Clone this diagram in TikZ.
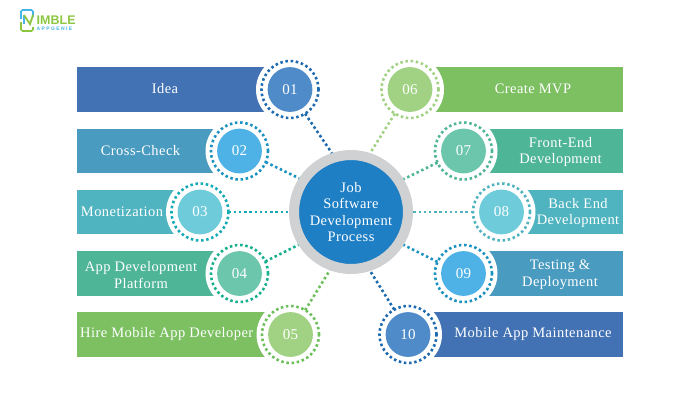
\documentclass[tikz,border=0pt]{standalone}
\usepackage{fontspec}
\setmainfont[LetterSpace=3]{Liberation Serif}
\setsansfont{Liberation Sans}
\definecolor{barA}{HTML}{4272B3}\definecolor{discA}{HTML}{4E8BC8}\definecolor{dotA}{HTML}{1D6AAE}
\definecolor{barB}{HTML}{4A9BC0}\definecolor{discB}{HTML}{4FB2E6}\definecolor{dotB}{HTML}{1A92C0}
\definecolor{barC}{HTML}{4FB4BF}\definecolor{discC}{HTML}{6ECBD9}\definecolor{dotC}{HTML}{13ABB5}
\definecolor{barD}{HTML}{4FB597}\definecolor{discD}{HTML}{6BC6AC}\definecolor{dotD}{HTML}{16B08E}
\definecolor{barE}{HTML}{7CC062}\definecolor{discE}{HTML}{A1D283}\definecolor{dotE}{HTML}{6CBF5B}
\definecolor{dotF}{HTML}{A1D283}\definecolor{dotG}{HTML}{4FB597}\definecolor{dotH}{HTML}{4FB4BF}
\definecolor{hubblue}{HTML}{1F7FC5}\definecolor{hubring}{HTML}{CFD1D3}
\definecolor{logoblue}{HTML}{45B4E6}\definecolor{logogreen}{HTML}{8CC63F}
\tikzset{
  barbox/.style={rectangle,inner sep=0pt,outer sep=0pt,minimum height=44.5pt},
  halo/.style={circle,fill=white,inner sep=0pt,outer sep=0pt,minimum size=68pt},
  ringdots/.style={circle,inner sep=0pt,outer sep=0pt,minimum size=57pt},
  disc/.style={circle,inner sep=0pt,outer sep=0pt,minimum size=44.8pt,text=white,font=\fontsize{15}{15}\selectfont},
  lab/.style={text=white,align=center,inner sep=0pt,font=\fontsize{14.5}{16.6}\selectfont},
  dotline/.style={line width=2.6pt,line cap=butt,dash pattern=on 2.5pt off 2.7pt},
  hubnode/.style={circle,draw=hubring,fill=hubblue,line width=10pt,inner sep=0pt,minimum size=114pt,text=white,align=center,font=\fontsize{14.5}{16.6}\selectfont}
}
% id, cx, cy, bar left, bar right, bar colour, disc colour, dot colour, number
\newcommand\spoke[9]{%
  \pgfmathsetmacro\barmid{(#4+#5)/2}%
  \pgfmathsetmacro\barlen{#5-#4}%
  \node[barbox,fill=#6,minimum width=\barlen pt] (bar#1) at (\barmid,#3) {};
  \node[halo] (halo#1) at (#2,#3) {};
  \node[ringdots,dotline,draw=#8] (ring#1) at (#2,#3) {};
  \node[disc,fill=#7] (num#1) at (#2,#3) {#9};
}
\begin{document}
\begin{tikzpicture}[x=1pt,y=-1pt]
\useasboundingbox (0,0) rectangle (700,400);
\spoke{a}{290}{89.5}{77}{290}{barA}{discA}{dotA}{01}
\spoke{b}{239.5}{151}{77}{239.5}{barB}{discB}{dotB}{02}
\spoke{c}{200}{212}{77}{200}{barC}{discC}{dotC}{03}
\spoke{d}{239.5}{273.5}{77}{239.5}{barD}{discD}{dotD}{04}
\spoke{e}{290.5}{334.5}{77}{290.5}{barE}{discE}{dotE}{05}
\spoke{f}{410}{89.5}{410}{623}{barE}{discE}{dotF}{06}
\spoke{g}{463.5}{151}{463.5}{623}{barD}{discD}{dotG}{07}
\spoke{h}{501.5}{212}{501.5}{623}{barC}{discC}{dotH}{08}
\spoke{i}{463.5}{273.5}{463.5}{623}{barB}{discB}{dotB}{09}
\spoke{j}{408}{334.5}{408}{623}{barA}{discA}{dotA}{10}
\node[hubnode] (hub) at (351,212) {Job\\Software\\Development\\Process};
\draw[dotline,draw=dotA] (ringa.-58) -- (hub.108);
\draw[dotline,draw=dotB] (ringb.-23) -- (hub.147);
\draw[dotline,draw=dotC] (ringc.0) -- (hub.180);
\draw[dotline,draw=dotD] (ringd.25) -- (hub.212);
\draw[dotline,draw=dotE] (ringe.59) -- (hub.250);
\draw[dotline,draw=dotF] (ringf.238) -- (hub.72);
\draw[dotline,draw=dotG] (ringg.204) -- (hub.32);
\draw[dotline,draw=dotH] (ringh.180) -- (hub.0);
\draw[dotline,draw=dotB] (ringi.156) -- (hub.-32);
\draw[dotline,draw=dotA] (ringj.119) -- (hub.-72);
\node[lab] (ta) at (165,89) {Idea};
\node[lab] (tb) at (140.5,151) {Cross-Check};
\node[lab] (tc) at (122,212) {Monetization};
\node[lab] (td) at (141,275) {App Development\\Platform};
\node[lab] (te) at (166.7,334) {Hire Mobile App Developer};
\node[lab] (tf) at (533,89) {Create MVP};
\node[lab] (tg) at (560.5,152) {Front-End\\Development};
\node[lab] (th) at (578,213) {Back End\\Development};
\node[lab] (ti) at (560,275) {Testing \&\\Deployment};
\node[lab] (tj) at (533,334) {Mobile App Maintenance};
% logo
\draw[logoblue,line width=1.6pt,rounded corners=1.5pt] (21,19) -- (21,10) -- (33,10) -- (33,17);
\draw[logogreen,line width=1.6pt,rounded corners=1.5pt] (21,22) -- (21,31) -- (33,31) -- (33,27);
\draw[logoblue,line width=1.8pt] (24,24) -- (24,15);
\draw[logogreen,line width=1.8pt] (24,15) -- (30,24) -- (33,15);
\node[inner sep=0pt,anchor=west,text=logogreen,font=\fontsize{12.5}{13}\sffamily\bfseries] (logoname) at (36.5,20.2) {IMBLE};
\node[inner sep=0pt,anchor=west,text=logoblue,font=\fontsize{5}{5}\sffamily\bfseries] (logosub) at (36.5,29) {A P P G E N I E};
\end{tikzpicture}
\end{document}
